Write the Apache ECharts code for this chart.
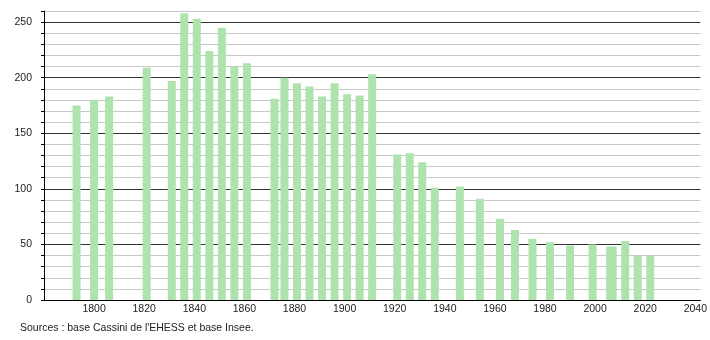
<!DOCTYPE html>
<html>
<head>
<meta charset="utf-8">
<script src="https://cdn.jsdelivr.net/npm/echarts@6/dist/echarts.min.js"></script>
<style>html,body{margin:0;padding:0;background:#fff;}#c{width:710px;height:340px;}</style>
</head>
<body>
<div id="c"></div>
<script>
var years = [1793,1800,1806,1821,1831,1836,1841,1846,1851,1856,1861,1872,1876,1881,1886,1891,1896,1901,1906,1911,1921,1926,1931,1936,1946,1954,1962,1968,1975,1982,1990,1999,2006,2007,2012,2017,2022];
var population = [175,180,183,209,197,258,253,224,245,210,213,181,200,195,192,183,195,185,184,203,131,132,124,101,102,91,73,63,55,52,49,50,48,48,53,40,40];
var yTickLabels = [0,50,100,150,200,250];
var xTickLabels = [1800,1820,1840,1860,1880,1900,1920,1940,1960,1980,2000,2020,2040];
var sourceText = "Sources : base Cassini de l'EHESS et base Insee.";

var data = years.map(function(y,i){return [y, population[i]];});
var chart = echarts.init(document.getElementById('c'), null, {renderer:'canvas'});
var font = 'Liberation Sans, Arial, sans-serif';
chart.setOption({
  animation:false,
  backgroundColor:'#fff',
  grid:{left:44,right:9,top:11,bottom:40,containLabel:false},
  xAxis:{
    type:'value', min:1780, max:2042, interval:20,
    axisLine:{show:true,onZero:false,lineStyle:{color:'#000',width:1}},
    axisTick:{show:false},
    splitLine:{show:false},
    axisLabel:{
      color:'#222', fontSize:10.5, fontFamily:font, margin:4,
      showMinLabel:true, showMaxLabel:true,
      formatter:function(v){return xTickLabels.indexOf(v)>=0 ? String(v) : '';}
    }
  },
  yAxis:{
    type:'value', min:0, max:260, interval:10,
    axisLine:{show:true,lineStyle:{color:'#000',width:1}},
    axisTick:{show:true,length:3,lineStyle:{color:'#000'}},
    splitLine:{show:true,lineStyle:{color:['#333','#c8c8c8','#c8c8c8','#c8c8c8','#c8c8c8'],width:1}},
    axisLabel:{
      color:'#222', fontSize:10.5, fontFamily:font, margin:12,
      formatter:function(v){return yTickLabels.indexOf(v)>=0 ? String(v) : '';}
    }
  },
  series:[{
    type:'bar', data:data, barWidth:8,
    itemStyle:{color:'#aee3ae'},
    z:3
  }],
  graphic:[{
    type:'text', left:20, top:323,
    style:{text:sourceText, fill:'#222', font:'10.5px '+font}
  }]
});
</script>
</body>
</html>
